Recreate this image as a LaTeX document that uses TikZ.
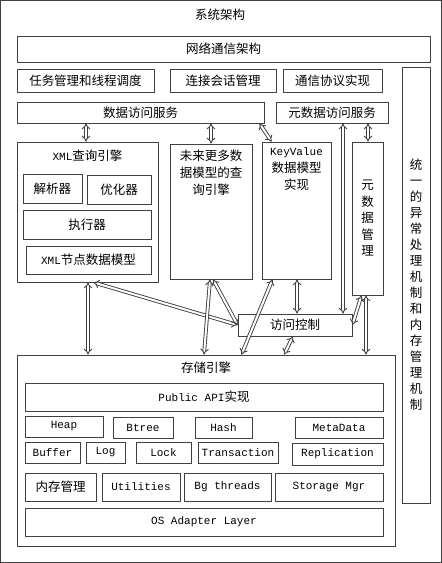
\documentclass[tikz,border=0pt]{standalone}
\usepackage{fontspec}
\setmainfont{Noto Sans CJK SC}
\setmonofont{Liberation Mono}[Scale=0.88]
\usetikzlibrary{arrows.meta, positioning, calc}

\begin{document}
\begin{tikzpicture}[
    x=1pt, y=-1pt,
    font=\fontsize{12.5}{16}\selectfont,
    blk/.style={rectangle, draw=black!75, line width=0.8pt, inner sep=1pt, align=center},
    tbox/.style={blk, font=\fontsize{12.5}{16}\selectfont\ttfamily},
    link/.style={draw=black!75, line width=0.9pt, double=white, double distance=2pt,
        {Implies[scale=1.2]}-{Implies[scale=1.2]}}
]
    \useasboundingbox (0,0) rectangle (442,563);
    \draw[black!75, line width=0.8pt] (0.5,0.5) rectangle (441.5,562.5);
    \node (title) at (220,15) {系统架构};

    % network layer
    \node[blk, minimum width=413, minimum height=26] (net) at (223.5,49) {网络通信架构};
    \node[blk, minimum width=137, minimum height=23] (task) at (85.5,80.5) {任务管理和线程调度};
    \node[blk, minimum width=106, minimum height=23] (conn) at (223,80.5) {连接会话管理};
    \node[blk, minimum width=99, minimum height=23] (proto) at (332.5,80.5) {通信协议实现};
    \node[blk, minimum width=28, minimum height=436] (err) at (416,285)
        {统\\一\\的\\异\\常\\处\\理\\机\\制\\和\\内\\存\\管\\理\\机\\制};

    % data access
    \node[blk, minimum width=247, minimum height=21] (das) at (140.5,112.5) {数据访问服务};
    \node[blk, minimum width=112, minimum height=21] (mdas) at (332,112.5) {元数据访问服务};

    % query engines
    \node[blk, minimum width=141, minimum height=140] (xmlq) at (87.5,212) {};
    \node[below=5pt of xmlq.north] (xmlqt) {\texttt{XML}查询引擎};
    \node[blk, minimum width=59, minimum height=29] (parser) at (52.5,188.5) {解析器};
    \node[blk, minimum width=64, minimum height=29] (optim) at (119,189.5) {优化器};
    \node[blk, minimum width=128, minimum height=29] (exec) at (87,224.5) {执行器};
    \node[blk, minimum width=125, minimum height=28] (xmlnode) at (88.5,260) {\texttt{XML}节点数据模型};
    \node[blk, minimum width=82, minimum height=135] (future) at (211,211.5) {};
    \node[below=3pt of future.north, align=center, font=\fontsize{12.5}{17}\selectfont] (futuret)
        {未来更多数\\据模型的查\\询引擎};
    \node[blk, minimum width=69, minimum height=137] (kv) at (296.5,210.5) {};
    \node[below=2pt of kv.north, align=center, font=\fontsize{12.5}{17}\selectfont] (kvt)
        {\texttt{KeyValue}\\数据模型\\实现};
    \node[blk, minimum width=31, minimum height=153, font=\fontsize{12.5}{16.5}\selectfont] (mdm) at (367.5,218.5)
        {元\\数\\据\\管\\理};
    \node[blk, minimum width=114, minimum height=22] (acl) at (295,325) {访问控制};

    % storage engine
    \node[blk, minimum width=378, minimum height=191] (se) at (206,450.5) {};
    \node[below=4pt of se.north] (set) {存储引擎};
    \node[blk, minimum width=358, minimum height=28] (api) at (204,397) {\texttt{Public API}实现};
    \node[tbox, minimum width=78, minimum height=21] (heap) at (64,426.5) {Heap};
    \node[tbox, minimum width=60, minimum height=21] (btree) at (143,427.5) {Btree};
    \node[tbox, minimum width=57, minimum height=21] (hash) at (223.5,427.5) {Hash};
    \node[tbox, minimum width=88, minimum height=21] (meta) at (339,427.5) {MetaData};
    \node[tbox, minimum width=55, minimum height=21] (buffer) at (52.5,452.5) {Buffer};
    \node[tbox, minimum width=39, minimum height=21] (log) at (105.5,452.5) {Log};
    \node[tbox, minimum width=55, minimum height=21] (lock) at (163.5,452.5) {Lock};
    \node[tbox, minimum width=80, minimum height=21] (trans) at (238,452.5) {Transaction};
    \node[tbox, minimum width=91, minimum height=22] (repl) at (337.5,454) {Replication};
    \node[blk, minimum width=71, minimum height=28] (mem) at (60.5,487) {内存管理};
    \node[tbox, minimum width=78, minimum height=28] (util) at (141,487) {Utilities};
    \node[tbox, minimum width=87, minimum height=28] (bg) at (227.5,487) {Bg threads};
    \node[tbox, minimum width=108, minimum height=28] (smgr) at (329,487) {Storage Mgr};
    \node[tbox, minimum width=358, minimum height=28] (os) at (204,522) {OS Adapter Layer};

    % connectors
    \draw[link] ([xshift=-1.5]xmlq.north |- das.south) -- ([xshift=-1.5]xmlq.north);
    \draw[link] (das.south -| future.north) -- (future.north);
    \draw[link] ([xshift=-5]das.south east) -- ([xshift=10]kv.north west);
    \draw[link] ([xshift=11]mdas.south) -- ([xshift=11]mdas.south |- acl.north);
    \draw[link] ([xshift=0.5]mdm.north |- mdas.south) -- ([xshift=0.5]mdm.north);
    \draw[link] ([xshift=0.5]xmlq.south) -- ([xshift=0.5]xmlq.south |- se.north);
    \draw[link] ([xshift=6]xmlq.south) -- (acl.west);
    \draw[link] ([xshift=-1]future.south) -- ([xshift=-7]future.south |- se.north);
    \draw[link] ([xshift=2]future.south) -- (acl.west);
    \draw[link] ([xshift=-24]kv.south) -- ([xshift=-55]kv.south |- se.north);
    \draw[link] ([xshift=0.5]kv.south) -- ([xshift=0.5]kv.south |- acl.north);
    \draw[link] ([xshift=-2]acl.south) -- ([xshift=-11]acl.south |- se.north);
    \draw[link] ([xshift=-6]mdm.south) -- (acl.east);
    \draw[link] ([xshift=-1.5]mdm.south) -- ([xshift=-1.5]mdm.south |- se.north);

\end{tikzpicture}
\end{document}
